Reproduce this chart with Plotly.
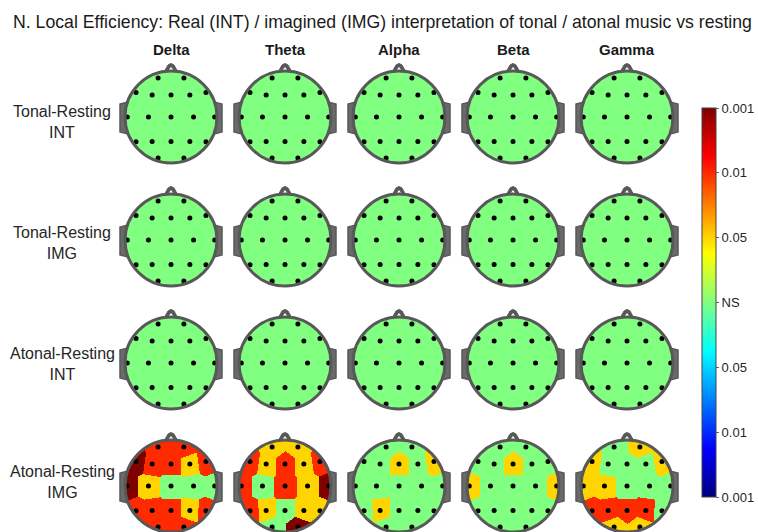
import numpy as np
import plotly.graph_objects as go

# ---- data -------------------------------------------------------------
BANDS = ["Delta", "Theta", "Alpha", "Beta", "Gamma"]
ROW_LABELS = ["Tonal-Resting<br>INT", "Tonal-Resting<br>IMG",
              "Atonal-Resting<br>INT", "Atonal-Resting<br>IMG"]

CHANNELS = ["Fp1", "Fp2", "F7", "F3", "Fz", "F4", "F8",
            "T3", "C3", "Cz", "C4", "T4",
            "T5", "P3", "Pz", "P4", "T6", "O1", "O2"]
# 2-D montage (unit head radius, +y towards the nose)
CH_X = [-0.28, 0.28, -0.76, -0.41, 0.00, 0.41, 0.76,
        -0.95, -0.49, 0.00, 0.49, 0.95,
        -0.76, -0.41, 0.00, 0.41, 0.76, -0.28, 0.28]
CH_Y = [0.85, 0.85, 0.53, 0.48, 0.48, 0.48, 0.53,
        0.00, 0.00, 0.00, 0.00, 0.00,
        -0.54, -0.53, -0.53, -0.53, -0.54, -0.89, -0.89]

# significance level per channel: 0 = NS, +1 p<0.05, +2 p<0.01, +3 p<0.001
TONAL_INT = [
    [0, 0, 0, 0, 0, 0, 0, 0, 0, 0, 0, 0, 0, 0, 0, 0, 0, 0, 0],
    [0, 0, 0, 0, 0, 0, 0, 0, 0, 0, 0, 0, 0, 0, 0, 0, 0, 0, 0],
    [0, 0, 0, 0, 0, 0, 0, 0, 0, 0, 0, 0, 0, 0, 0, 0, 0, 0, 0],
    [0, 0, 0, 0, 0, 0, 0, 0, 0, 0, 0, 0, 0, 0, 0, 0, 0, 0, 0],
    [0, 0, 0, 0, 0, 0, 0, 0, 0, 0, 0, 0, 0, 0, 0, 0, 0, 0, 0],
]
TONAL_IMG = [
    [0, 0, 0, 0, 0, 0, 0, 0, 0, 0, 0, 0, 0, 0, 0, 0, 0, 0, 0],
    [0, 0, 0, 0, 0, 0, 0, 0, 0, 0, 0, 0, 0, 0, 0, 0, 0, 0, 0],
    [0, 0, 0, 0, 0, 0, 0, 0, 0, 0, 0, 0, 0, 0, 0, 0, 0, 0, 0],
    [0, 0, 0, 0, 0, 0, 0, 0, 0, 0, 0, 0, 0, 0, 0, 0, 0, 0, 0],
    [0, 0, 0, 0, 0, 0, 0, 0, 0, 0, 0, 0, 0, 0, 0, 0, 0, 0, 0],
]
ATONAL_INT = [
    [0, 0, 0, 0, 0, 0, 0, 0, 0, 0, 0, 0, 0, 0, 0, 0, 0, 0, 0],
    [0, 0, 0, 0, 0, 0, 0, 0, 0, 0, 0, 0, 0, 0, 0, 0, 0, 0, 0],
    [0, 0, 0, 0, 0, 0, 0, 0, 0, 0, 0, 0, 0, 0, 0, 0, 0, 0, 0],
    [0, 0, 0, 0, 0, 0, 0, 0, 0, 0, 0, 0, 0, 0, 0, 0, 0, 0, 0],
    [0, 0, 0, 0, 0, 0, 0, 0, 0, 0, 0, 0, 0, 0, 0, 0, 0, 0, 0],
]
ATONAL_IMG = [
    # Fp1 Fp2 F7 F3 Fz F4 F8 T3 C3 Cz C4 T4 T5 P3 Pz P4 T6 O1 O2
    [2, 2, 3, 2, 2, 1, 2, 3, 1, 0, 0, 0, 2, 2, 2, 1, 2, 2, 2],   # Delta
    [1, 1, 2, 1, 2, 1, 2, 2, 0, 2, 1, 3, 2, 1, 0, 1, 1, 0, 3],   # Theta
    [0, 0, 0, 0, 1, 0, 1, 0, 0, 0, 0, 0, 0, 1, 0, 0, 0, 0, 0],   # Alpha
    [0, 0, 0, 0, 1, 0, 0, 1, 0, 0, 0, 1, 0, 0, 0, 0, 0, 0, 0],   # Beta
    [0, 1, 1, 0, 0, 0, 1, 1, 1, 0, 0, 0, 2, 2, 2, 2, 0, 1, 1],   # Gamma
]
ROWS = [TONAL_INT, TONAL_IMG, ATONAL_INT, ATONAL_IMG]

CBAR_TICKVALS = [-3, -2, -1, 0, 1, 2, 3]
CBAR_TICKTEXT = ["0.001", "0.01", "0.05", "NS", "0.05", "0.01", "0.001"]

TITLE = ("N. Local Efficiency: Real (INT) / imagined (IMG) interpretation "
         "of tonal / atonal music vs resting")

# ---- layout constants (pixel space) ----------------------------------
W, H = 758, 532
COL_X = [171, 285, 399, 513, 627]
ROW_Y = [117, 240, 363, 486]
LABEL_Y = [122, 243, 364, 482]
R = 46
HEAD_LINE = "#585858"
FONT = "Liberation Sans, Arial, sans-serif"

JET = [[0.0, "rgb(0,0,128)"], [0.125, "rgb(0,0,255)"], [0.375, "rgb(0,255,255)"],
       [0.625, "rgb(255,255,0)"], [0.875, "rgb(255,0,0)"], [1.0, "rgb(128,0,0)"]]

fig = go.Figure()
shapes = []
dot_x, dot_y = [], []

ex = np.array(CH_X)
ey = np.array(CH_Y)
g = np.arange(-R, R + 1, 1.0)
GX, GY = np.meshgrid(g, g)          # GY grows downward (pixel rows)
inside = np.hypot(GX, GY) <= R - 0.5
# nearest electrode for every grid cell
d2 = (GX[..., None] - ex * R) ** 2 + (GY[..., None] + ey * R) ** 2
nearest = np.argmin(d2, axis=-1)

for r, row in enumerate(ROWS):
    cy = ROW_Y[r]
    for c, vals in enumerate(row):
        cx = COL_X[c]
        v = np.array(vals, dtype=float)[nearest]
        z = [[(float(v[i, j]) if inside[i, j] else None) for j in range(len(g))]
             for i in range(len(g))]
        fig.add_trace(go.Heatmap(x=cx + g, y=cy + g, z=z, coloraxis="coloraxis",
                                 zsmooth=False, hoverinfo="skip"))
        dot_x.extend(cx + ex * R)
        dot_y.extend(cy - ey * R)

        # nose
        top = cy - R
        shapes.append(dict(type="path", layer="below",
                           path=(f"M {cx-8} {top+3} L {cx-3} {top-6} "
                                 f"Q {cx} {top-9} {cx+3} {top-6} L {cx+8} {top+3} Z"),
                           fillcolor=HEAD_LINE, line=dict(color=HEAD_LINE, width=1)))
        shapes.append(dict(type="path", layer="below",
                           path=(f"M {cx-3} {top} L {cx} {top-4} L {cx+3} {top} Z"),
                           fillcolor="white", line=dict(width=0)))
        # ears
        for s in (-1, 1):
            xo = cx + s * (R + 5)
            xi = cx + s * (R - 3)
            shapes.append(dict(type="path", layer="below",
                               path=(f"M {xi} {cy-15} L {xo} {cy-13} L {xo} {cy+15} "
                                     f"L {xi} {cy+17} Z"),
                               fillcolor="#6a6a6a", line=dict(color=HEAD_LINE, width=1.5)))
        # head outline
        shapes.append(dict(type="circle", layer="above",
                           x0=cx - R, x1=cx + R, y0=cy - R, y1=cy + R,
                           line=dict(color=HEAD_LINE, width=3)))

fig.add_trace(go.Scatter(x=dot_x, y=dot_y, mode="markers", hoverinfo="skip",
                         marker=dict(color="black", size=5, line=dict(width=0))))

annotations = [dict(x=382, y=22, text=TITLE, showarrow=False, xref="x", yref="y",
                    font=dict(family=FONT, size=17.7, color="#1a1a1a"))]
for c, band in enumerate(BANDS):
    annotations.append(dict(x=COL_X[c], y=49, text=f"<b>{band}</b>", showarrow=False,
                            xref="x", yref="y",
                            font=dict(family=FONT, size=15, color="#1a1a1a")))
for r, lab in enumerate(ROW_LABELS):
    annotations.append(dict(x=62, y=LABEL_Y[r], text=lab, showarrow=False,
                            xref="x", yref="y", align="center",
                            font=dict(family=FONT, size=16, color="#262626")))

fig.update_layout(
    width=W, height=H, margin=dict(l=0, r=0, t=0, b=0),
    paper_bgcolor="white", plot_bgcolor="white", showlegend=False,
    xaxis=dict(range=[0, W], visible=False, fixedrange=True),
    yaxis=dict(range=[H, 0], visible=False, fixedrange=True),
    shapes=shapes, annotations=annotations,
    coloraxis=dict(
        colorscale=JET, cmin=-3, cmax=3,
        colorbar=dict(
            x=702 / W, xanchor="left", y=1 - 108 / H, yanchor="top",
            lenmode="pixels", len=389, thicknessmode="pixels", thickness=14,
            xpad=0, ypad=0, outlinewidth=1, outlinecolor="#444444",
            tickvals=CBAR_TICKVALS, ticktext=CBAR_TICKTEXT,
            ticks="outside", ticklen=3, tickcolor="#666666",
            tickfont=dict(family=FONT, size=13, color="#262626"),
        ),
    ),
)

fig.write_html("out.html")
